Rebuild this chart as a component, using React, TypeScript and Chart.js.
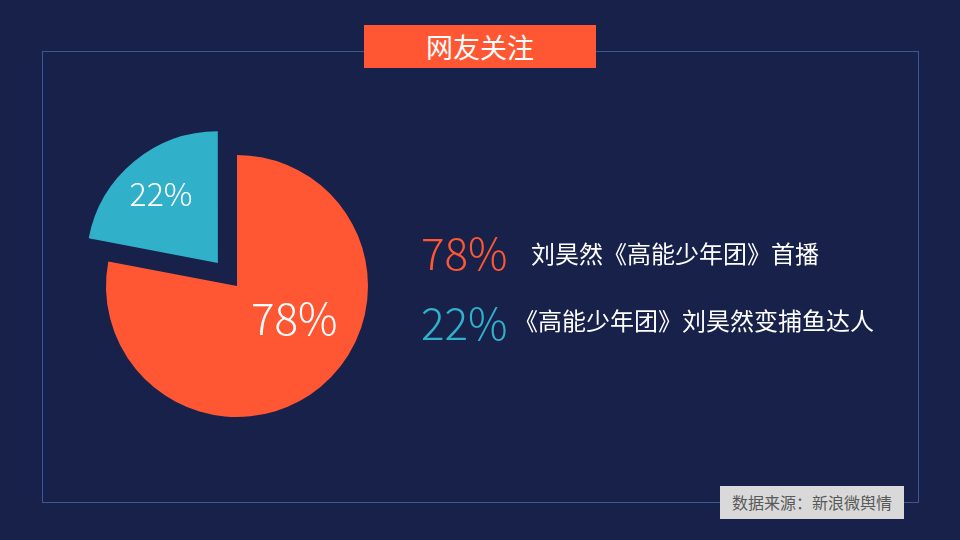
import React, { useEffect, useRef } from "react";
import { Chart, registerables } from "chart.js";

Chart.register(...registerables);

const categories = ["刘昊然《高能少年团》首播", "《高能少年团》刘昊然变捕鱼达人"];
const values = [78, 22];
const valueLabels = ["78%", "22%"];
const colors = ["#ff5733", "#31b0ca"];
const sliceOffsets = [0, 120];
const title = "网友关注";
const source = "数据来源：新浪微舆情";

const BG = "#17214a";
const FONT = '"Noto Sans CJK SC", "Noto Sans", sans-serif';

const labelPlugin = {
  id: "sliceLabels",
  afterDatasetsDraw(chart: any) {
    const meta = chart.getDatasetMeta(0);
    const ctx = chart.ctx;
    // per-slice label placement: [fraction along arc, fraction of radius, font size]
    const place = [
      [0.424, 0.5, 44],
      [0.5, 0.68, 32],
    ];
    meta.data.forEach((arc: any, i: number) => {
      const p = arc.getProps(["x", "y", "startAngle", "endAngle", "outerRadius"], true);
      const a = p.startAngle + (p.endAngle - p.startAngle) * place[i][0];
      const r = p.outerRadius * place[i][1];
      const off = sliceOffsets[i] / 4;
      const mid = (p.startAngle + p.endAngle) / 2;
      const cx = p.x + Math.cos(mid) * off + Math.cos(a) * r;
      const cy = p.y + Math.sin(mid) * off + Math.sin(a) * r;
      ctx.save();
      ctx.fillStyle = "#ffffff";
      ctx.font = `300 ${place[i][2]}px ${FONT}`;
      ctx.textAlign = "center";
      ctx.textBaseline = "middle";
      ctx.fillText(valueLabels[i], cx, cy);
      ctx.restore();
    });
  },
};

export default function App() {
  const ref = useRef<HTMLCanvasElement>(null);
  useEffect(() => {
    document.body.style.margin = "0";
    const chart = new Chart(ref.current!, {
      type: "pie",
      data: {
        labels: categories,
        datasets: [
          {
            data: values,
            backgroundColor: colors,
            borderWidth: 0,
            offset: sliceOffsets,
            hoverOffset: 0,
          },
        ],
      },
      options: {
        responsive: false,
        animation: false,
        radius: 131,
        layout: { padding: 50 },
        plugins: { legend: { display: false }, tooltip: { enabled: false } },
        events: [],
      },
      plugins: [labelPlugin],
    });
    return () => chart.destroy();
  }, []);

  const abs = (o: React.CSSProperties): React.CSSProperties => ({ position: "absolute", ...o });

  return (
    <div style={{ position: "fixed", left: 0, top: 0, width: 960, height: 540, background: BG, fontFamily: FONT, overflow: "hidden" }}>
      <div style={abs({ left: 42, top: 51, width: 875, height: 450, border: "1px solid #3d5794" })} />
      <div style={abs({ left: 364, top: 25, width: 232, height: 43, background: "#ff5733", color: "#fff", fontSize: 27, lineHeight: "43px", textAlign: "center" })}>{title}</div>
      <canvas ref={ref} width={392} height={392} style={abs({ left: 41, top: 90 })} />
      <div style={abs({ left: 421, top: 221, height: 60, lineHeight: "60px", fontSize: 44, fontWeight: 300, color: colors[0] })}>{valueLabels[0]}</div>
      <div style={abs({ left: 531, top: 223, height: 60, lineHeight: "60px", fontSize: 24, color: "#fff", whiteSpace: "nowrap" })}>{categories[0]}</div>
      <div style={abs({ left: 421, top: 291, height: 60, lineHeight: "60px", fontSize: 44, fontWeight: 300, color: colors[1] })}>{valueLabels[1]}</div>
      <div style={abs({ left: 514, top: 290, height: 60, lineHeight: "60px", fontSize: 24, color: "#fff", whiteSpace: "nowrap" })}>{categories[1]}</div>
      <div style={abs({ left: 720, top: 486, width: 184, height: 33, background: "#d9d9d9", color: "#595959", fontSize: 16, lineHeight: "33px", textAlign: "center" })}>{source}</div>
    </div>
  );
}
